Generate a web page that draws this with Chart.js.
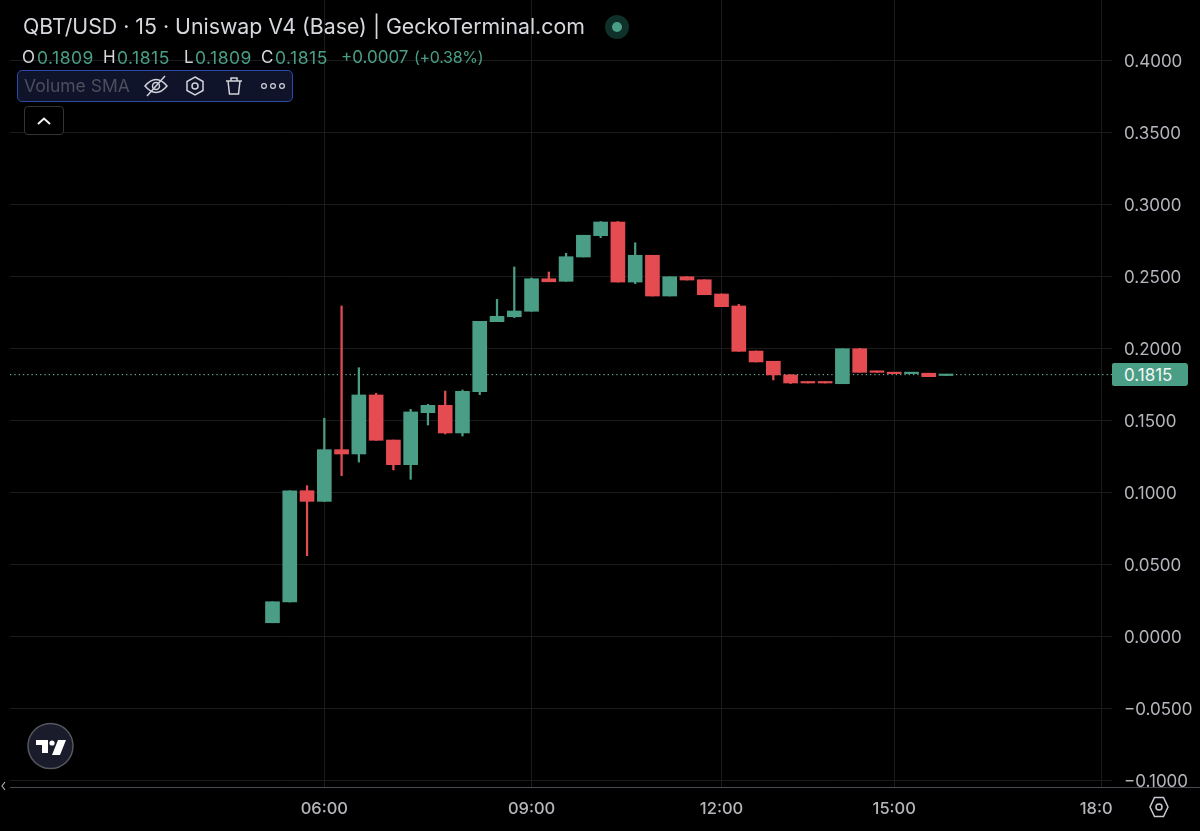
<!DOCTYPE html>
<html>
<head>
<meta charset="utf-8">
<script src="https://cdn.jsdelivr.net/npm/chart.js@4"></script>
<style>
html,body{margin:0;padding:0;background:#000;width:1200px;height:831px;overflow:hidden}
#wrap{position:relative;width:1200px;height:831px;font-family:Inter,"Noto Sans",sans-serif}
canvas{position:absolute;left:0;top:0}
.t{position:absolute;white-space:nowrap;line-height:1}
.g{color:#4a9e85;font-size:17.5px;letter-spacing:.5px;top:49px}.w{color:#d6d8de}
.l{font-size:17px;top:49px}
svg{position:absolute;overflow:visible}
</style>
</head>
<body>
<div id="wrap">
<canvas id="c" width="1200" height="831"></canvas>

<div class="t w" id="title" style="left:23px;top:16px;font-size:21.3px;font-weight:400">QBT/USD · 15 · Uniswap V4 (Base) | GeckoTerminal.com</div>
<svg style="left:0;top:0" width="1" height="1"><circle cx="617" cy="27" r="12" fill="#10302a"/><circle cx="617" cy="27" r="5" fill="#4a9e85"/></svg>

<div class="t w l" style="left:22px">O</div><div class="t g" style="left:37px">0.1809</div>
<div class="t w l" style="left:103px">H</div><div class="t g" style="left:117px">0.1815</div>
<div class="t w l" style="left:184px">L</div><div class="t g" style="left:195px">0.1809</div>
<div class="t w l" style="left:261px">C</div><div class="t g" style="left:275px">0.1815</div>
<div class="t g" style="left:341px;font-size:17px;letter-spacing:0">+0.0007</div>
<div class="t g" style="left:414px;font-size:16px;letter-spacing:-.3px">(+0.38%)</div>

<div style="position:absolute;left:17px;top:70px;width:274px;height:30px;background:#10142a;border:1.5px solid #2b49ad;border-radius:5px"></div>
<div class="t" style="left:24px;top:77px;font-size:17.5px;color:#4b4f5c">Volume SMA</div>
<svg style="left:0;top:0" width="1" height="1" fill="none" stroke="#cfd2d8" stroke-width="1.5">
  <path d="M145 86 Q156 73 167 86 Q156 99 145 86Z"/><circle cx="156" cy="86" r="3.5"/><path d="M147 96 L165 76"/>
  <path d="M195 77 L203 81.5 V90.5 L195 95 L187 90.5 V81.5Z"/><circle cx="195" cy="86" r="3"/>
  <path d="M226 81 H242 M231 81 V78 H237 V81 M228 81 L229.5 94 H238.5 L240 81"/>
  <g stroke-width="1.2"><circle cx="264" cy="86" r="2.4"/><circle cx="273" cy="86" r="2.4"/><circle cx="282" cy="86" r="2.4"/></g>
</svg>

<div style="position:absolute;left:24px;top:106px;width:38px;height:27px;border:1.5px solid #333;border-radius:4px;background:#000"></div>
<svg style="left:0;top:0" width="1" height="1" fill="none" stroke="#f0f0f0" stroke-width="2"><path d="M38 124 L44 118.5 L50 124"/></svg>

<svg style="left:0;top:0" width="1" height="1">
  <circle cx="50.5" cy="746" r="22.5" fill="#1a1c2c" stroke="#55565e" stroke-width="1.5"/>
  <path d="M36 740 H48 V753 H42 V745 H36Z M58 740 H66 L60 755 H52Z" fill="#fff"/><circle cx="52" cy="743" r="2.6" fill="#fff"/>
  <path d="M5 782 L2 786 L5 790" fill="none" stroke="#aaa" stroke-width="1.2"/>
</svg>

<div style="position:absolute;left:1112px;top:787px;width:88px;height:44px;background:#000"></div>
<div style="position:absolute;left:10px;top:787px;width:1190px;height:1.3px;background:#4a4a52"></div>
<svg style="left:0;top:0" width="1" height="1" fill="none" stroke="#c8cad0" stroke-width="1.5">
  <path d="M1159 798 L1168.5 802.5 V811.5 L1159 816 L1149.5 811.5 V802.5Z" transform="rotate(90 1159 807)"/><circle cx="1159" cy="807" r="3"/>
</svg>

<div class="t" style="left:1112px;top:363px;width:76px;height:23px;background:#4a9e85;border-radius:2px 3px 3px 2px;color:#f2f6f5;font-size:17px;line-height:25px;text-indent:12px">0.1815</div>
</div>

<script>
const xPositions = [0,1,2,3,4,5,6,7,8,9,10,11,12,13,14,15,16,17,18,19,20,21,22,23,24,25,26,27,28,29,30,31,32,33,34,35,36,37,38,39];
const opens  = [.0092,.0236,.1009,.0935,.1294,.1264,.1674,.1361,.1190,.1551,.1602,.1410,.1697,.2183,.2217,.2255,.2481,.2463,.2632,.2780,.2875,.2458,.2644,.2361,.2495,.2474,.2375,.2292,.1979,.1908,.1813,.1766,.1766,.1752,.1995,.1840,.1831,.1822,.1825,.1809];
const closes = [.0238,.1009,.0935,.1294,.1264,.1674,.1359,.1190,.1556,.1602,.1410,.1699,.2185,.2220,.2257,.2481,.2460,.2634,.2783,.2875,.2458,.2644,.2361,.2495,.2472,.2370,.2287,.1977,.1903,.1813,.1757,.1757,.1757,.1995,.1831,.1831,.1822,.1831,.1801,.1815];
const highs  = [.0238,.1009,.1044,.1512,.2292,.1863,.1685,.1361,.1574,.1609,.1701,.1708,.2185,.2338,.2563,.2486,.2528,.2658,.2783,.2878,.2878,.2731,.2644,.2495,.2495,.2474,.2375,.2303,.1979,.1908,.1815,.1766,.1766,.1995,.1998,.1840,.1831,.1831,.1825,.1815];
const lows   = [.0092,.0236,.0558,.0935,.1113,.1208,.1359,.1153,.1088,.1465,.1403,.1389,.1676,.2183,.2211,.2255,.2460,.2463,.2632,.2766,.2458,.2447,.2361,.2361,.2472,.2370,.2287,.1977,.1903,.1778,.1753,.1757,.1757,.1752,.1831,.1831,.1822,.1822,.1801,.1809];
const lastPrice = 0.1815;
const xTickPositions = [3,15,26,36,48];
const xTickLabels = ["06:00","09:00","12:00","15:00","18:00"];
const yTickValues = [0.40,0.35,0.30,0.25,0.20,0.15,0.10,0.05,0,-0.05,-0.10];
const UP = "#4a9e85", DOWN = "#e44c52", GRID = "#1b1b1d", AXIS_TEXT = "#b4b6bc";

const zeroPad = a => { a.paddingTop = 0; a.paddingBottom = 0; a.paddingLeft = 0; a.paddingRight = 0; };
const candleColors = opens.map((o,i)=> closes[i]>=o ? UP : DOWN);
new Chart(document.getElementById("c"),{
  data:{datasets:[
    {type:"bar",order:1,grouped:false,barThickness:14,minBarLength:1.5,
     data:xPositions.map((x,i)=>({x,y:[opens[i],closes[i]]})),backgroundColor:candleColors},
    {type:"bar",order:2,grouped:false,barThickness:1.6,
     data:xPositions.map((x,i)=>({x,y:[lows[i],highs[i]]})),backgroundColor:candleColors},
    {type:"line",order:3,data:[{x:-15.2,y:lastPrice},{x:48.61,y:lastPrice}],
     borderColor:"#7cc4ad",borderWidth:1,borderDash:[1.3,3],pointRadius:0}
  ]},
  options:{
    responsive:false,animation:false,devicePixelRatio:1,
    layout:{autoPadding:false,padding:{left:10,top:0,right:0,bottom:0}},
    plugins:{legend:{display:false},tooltip:{enabled:false}},
    scales:{
      x:{type:"linear",min:-15.2,max:48.61,offset:false,
        grid:{color:GRID,lineWidth:1,drawTicks:false,offset:false},border:{display:false},
        afterBuildTicks:a=>{a.ticks=xTickPositions.map(v=>({value:v}))},
        afterFit:a=>{a.height=44;zeroPad(a)},
        ticks:{autoSkip:false,maxRotation:0,padding:12,color:AXIS_TEXT,
          font:{family:"Inter",size:16.5,weight:"500"},
          callback:v=>xTickLabels[xTickPositions.indexOf(v)]}},
      y:{type:"linear",position:"right",min:-0.10486,max:0.44167,
        grid:{color:GRID,lineWidth:1,drawTicks:false},border:{display:false},
        afterBuildTicks:a=>{a.ticks=yTickValues.map(v=>({value:v}))},
        afterFit:a=>{a.width=88;zeroPad(a)},
        ticks:{padding:12,labelOffset:1.5,color:AXIS_TEXT,font:{family:"Inter",size:17},
          callback:v=>(v<0?"\u2212":"")+Math.abs(v).toFixed(4)}}
    }
  }
});
</script>
</body>
</html>
